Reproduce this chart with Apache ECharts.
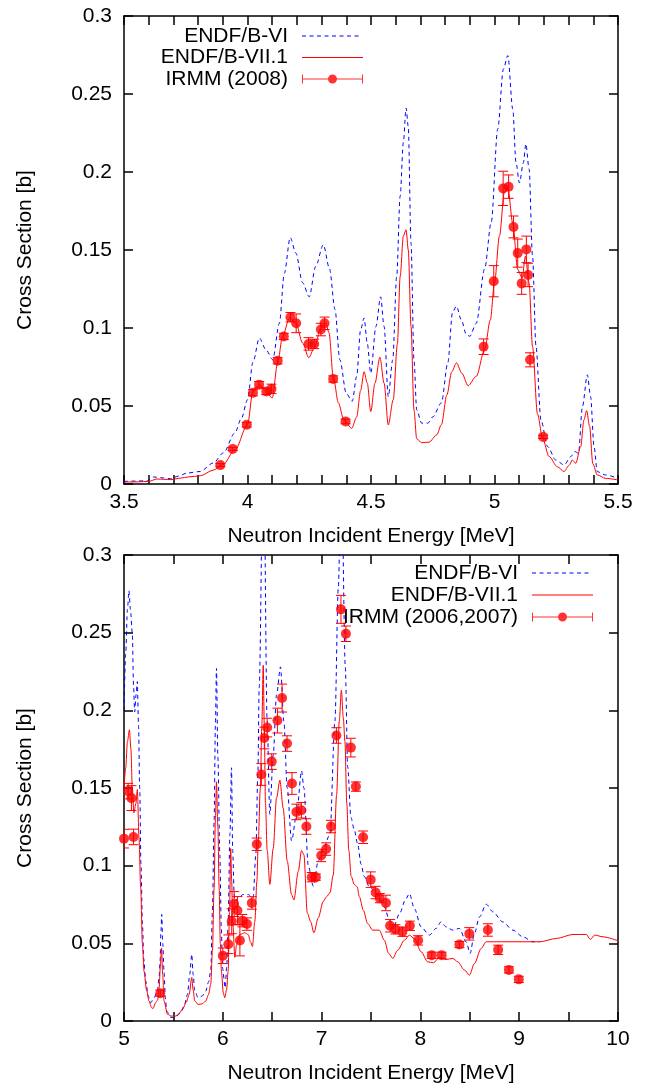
<!DOCTYPE html>
<html><head><meta charset="utf-8">
<script src="https://cdn.jsdelivr.net/npm/echarts@6/dist/echarts.min.js"></script>
<style>html,body{margin:0;padding:0;background:#fff}#c{width:648px;height:1087px}</style>
</head><body><div id="c"></div><script>
// ---------- DATA ----------
const topXTicks = [3.5, 4, 4.5, 5, 5.5];
const botXTicks = [5, 6, 7, 8, 9, 10];
const yTicks = [0, 0.05, 0.1, 0.15, 0.2, 0.25, 0.3];

const seriesNames = ['ENDF/B-VI', 'ENDF/B-VII.1'];
const topExpName = 'IRMM (2008)';
const botExpName = 'IRMM (2006,2007)';
const xTitle = 'Neutron Incident Energy [MeV]';
const yTitle = 'Cross Section [b]';

// top panel, ENDF/B-VI  [energy MeV, cross section b]
const topB6 = [[3.5,0.0017],[3.594,0.002],[3.62,0.0045],[3.65,0.004],[3.688,0.0034],[3.72,0.005],[3.755,0.007],[3.808,0.008],[3.862,0.0135],[3.902,0.0199],[3.949,0.0327],[3.975,0.042],[4.0,0.054],[4.022,0.078],[4.048,0.0936],[4.075,0.086],[4.102,0.0797],[4.129,0.103],[4.149,0.135],[4.173,0.158],[4.196,0.148],[4.223,0.129],[4.25,0.12],[4.276,0.1395],[4.307,0.1534],[4.332,0.138],[4.354,0.112],[4.374,0.0796],[4.4,0.058],[4.424,0.053],[4.442,0.069],[4.458,0.099],[4.472,0.1064],[4.485,0.09],[4.499,0.071],[4.52,0.101],[4.539,0.12],[4.553,0.101],[4.57,0.056],[4.588,0.0796],[4.604,0.133],[4.618,0.1845],[4.631,0.219],[4.642,0.241],[4.651,0.229],[4.662,0.1545],[4.674,0.0796],[4.685,0.0475],[4.705,0.039],[4.73,0.039],[4.75,0.043],[4.785,0.052],[4.811,0.0776],[4.83,0.11],[4.846,0.114],[4.866,0.105],[4.886,0.0958],[4.9,0.0947],[4.926,0.103],[4.96,0.138],[4.987,0.168],[5.013,0.2275],[5.036,0.266],[5.054,0.2746],[5.074,0.2403],[5.087,0.206],[5.101,0.193],[5.117,0.206],[5.127,0.218],[5.14,0.202],[5.154,0.146],[5.168,0.088],[5.188,0.041],[5.215,0.024],[5.248,0.0154],[5.282,0.0122],[5.309,0.0176],[5.326,0.0208],[5.34,0.0197],[5.356,0.0497],[5.376,0.07],[5.389,0.056],[5.403,0.024],[5.416,0.0079],[5.45,0.0058],[5.5,0.0036]];

// top panel, ENDF/B-VII.1
const topB7 = [[3.5,0.0012],[3.56,0.0014],[3.6,0.0017],[3.634,0.0032],[3.66,0.003],[3.69,0.0028],[3.73,0.0038],[3.76,0.0045],[3.81,0.0053],[3.86,0.0088],[3.9,0.0124],[3.95,0.022],[4.0,0.038],[4.022,0.0594],[4.048,0.0637],[4.075,0.0594],[4.1,0.0551],[4.122,0.0776],[4.142,0.0947],[4.17,0.1064],[4.196,0.1032],[4.223,0.0904],[4.248,0.081],[4.27,0.087],[4.297,0.1],[4.317,0.103],[4.33,0.097],[4.347,0.069],[4.368,0.052],[4.39,0.041],[4.422,0.0357],[4.442,0.043],[4.458,0.06],[4.472,0.072],[4.485,0.0646],[4.499,0.0464],[4.516,0.0646],[4.536,0.0813],[4.553,0.0646],[4.57,0.0379],[4.59,0.054],[4.607,0.09],[4.618,0.133],[4.631,0.159],[4.642,0.163],[4.651,0.15],[4.662,0.101],[4.674,0.0475],[4.685,0.029],[4.705,0.0265],[4.735,0.0268],[4.766,0.0315],[4.785,0.038],[4.807,0.057],[4.827,0.072],[4.846,0.0776],[4.868,0.071],[4.893,0.063],[4.926,0.069],[4.96,0.086],[4.983,0.105],[5.0,0.129],[5.02,0.159],[5.04,0.187],[5.054,0.19],[5.074,0.167],[5.094,0.1375],[5.112,0.132],[5.125,0.146],[5.14,0.129],[5.154,0.088],[5.174,0.045],[5.195,0.029],[5.221,0.0176],[5.255,0.011],[5.282,0.008],[5.302,0.012],[5.315,0.0154],[5.329,0.0133],[5.349,0.024],[5.362,0.041],[5.373,0.047],[5.385,0.037],[5.398,0.013],[5.416,0.0058],[5.45,0.0036],[5.5,0.0026]];

// top panel, IRMM (2008)  [energy, xs, uncertainty]
const topExp = [[3.89,0.0121,0.001],[3.94,0.0225,0.001],[3.997,0.038,0.0015],[4.022,0.0585,0.002],[4.047,0.0637,0.002],[4.076,0.0593,0.002],[4.097,0.061,0.003],[4.122,0.079,0.002],[4.147,0.0946,0.002],[4.174,0.1069,0.003],[4.197,0.103,0.006],[4.247,0.0898,0.004],[4.27,0.0898,0.003],[4.297,0.099,0.004],[4.312,0.103,0.004],[4.347,0.0673,0.002],[4.397,0.0401,0.0015],[4.956,0.088,0.005],[4.997,0.13,0.01],[5.035,0.1895,0.011],[5.057,0.1906,0.0075],[5.077,0.1648,0.007],[5.094,0.148,0.009],[5.11,0.1286,0.007],[5.129,0.1504,0.0085],[5.136,0.134,0.0075],[5.144,0.0796,0.0045],[5.197,0.0302,0.001]];

// bottom panel, ENDF/B-VI
const botB6 = [[5.0,0.2],[5.017,0.236],[5.035,0.265],[5.05,0.277],[5.065,0.265],[5.084,0.25],[5.097,0.215],[5.108,0.199],[5.122,0.21],[5.135,0.2185],[5.147,0.19],[5.159,0.15],[5.172,0.1],[5.186,0.064],[5.2,0.04],[5.22,0.0257],[5.245,0.016],[5.27,0.0118],[5.304,0.015],[5.338,0.0193],[5.355,0.028],[5.365,0.0386],[5.374,0.058],[5.382,0.0686],[5.392,0.05],[5.405,0.032],[5.418,0.015],[5.432,0.0064],[5.47,0.0025],[5.507,0.002],[5.54,0.0035],[5.574,0.0054],[5.61,0.01],[5.642,0.017],[5.665,0.03],[5.686,0.0429],[5.7,0.03],[5.716,0.0193],[5.75,0.015],[5.79,0.016],[5.828,0.0193],[5.855,0.025],[5.878,0.032],[5.895,0.07],[5.912,0.1286],[5.925,0.19],[5.936,0.227],[5.95,0.17],[5.97,0.107],[5.985,0.06],[5.997,0.034],[6.024,0.0214],[6.04,0.035],[6.054,0.064],[6.072,0.12],[6.088,0.163],[6.1,0.11],[6.115,0.082],[6.122,0.077],[6.155,0.079],[6.206,0.0814],[6.257,0.0814],[6.307,0.079],[6.334,0.107],[6.355,0.16],[6.368,0.214],[6.412,0.38],[6.449,0.193],[6.476,0.133],[6.51,0.171],[6.544,0.21],[6.584,0.228],[6.618,0.193],[6.652,0.15],[6.696,0.116],[6.747,0.133],[6.797,0.161],[6.821,0.15],[6.865,0.1],[6.916,0.0868],[6.966,0.103],[7.017,0.111],[7.084,0.12],[7.135,0.193],[7.169,0.279],[7.2,0.36],[7.24,0.228],[7.264,0.1635],[7.297,0.131],[7.331,0.123],[7.365,0.114],[7.399,0.101],[7.432,0.093],[7.483,0.0864],[7.534,0.0842],[7.584,0.0789],[7.635,0.0735],[7.686,0.065],[7.736,0.0617],[7.787,0.069],[7.855,0.0789],[7.889,0.082],[7.939,0.0724],[8.007,0.0606],[8.091,0.0553],[8.159,0.0596],[8.209,0.0638],[8.26,0.0606],[8.328,0.0585],[8.395,0.0596],[8.463,0.051],[8.503,0.0435],[8.547,0.0564],[8.598,0.067],[8.666,0.0752],[8.733,0.0703],[8.834,0.0638],[8.936,0.0585],[9.037,0.0542],[9.139,0.051],[9.206,0.051]];

// bottom panel, ENDF/B-VII.1
const botB7 = [[5.0,0.15],[5.017,0.163],[5.035,0.18],[5.055,0.1875],[5.07,0.175],[5.084,0.15],[5.1,0.134],[5.12,0.14],[5.135,0.149],[5.152,0.118],[5.169,0.0857],[5.186,0.05],[5.203,0.032],[5.228,0.02],[5.253,0.0129],[5.28,0.0085],[5.294,0.008],[5.32,0.0118],[5.34,0.0135],[5.355,0.021],[5.368,0.035],[5.38,0.047],[5.392,0.03],[5.405,0.0129],[5.44,0.0043],[5.48,0.0032],[5.524,0.0032],[5.56,0.005],[5.591,0.0075],[5.63,0.012],[5.659,0.017],[5.686,0.028],[5.7,0.02],[5.716,0.0129],[5.75,0.0107],[5.79,0.011],[5.828,0.0129],[5.855,0.017],[5.878,0.0236],[5.895,0.045],[5.912,0.0857],[5.925,0.13],[5.936,0.154],[5.95,0.125],[5.963,0.0857],[5.975,0.05],[5.986,0.032],[6.005,0.018],[6.02,0.015],[6.038,0.02],[6.054,0.032],[6.068,0.07],[6.08,0.111],[6.09,0.09],[6.1,0.064],[6.122,0.041],[6.139,0.049],[6.172,0.0557],[6.223,0.0568],[6.257,0.0557],[6.28,0.051],[6.3,0.048],[6.324,0.064],[6.345,0.09],[6.358,0.1136],[6.38,0.15],[6.395,0.19],[6.409,0.229],[6.42,0.19],[6.432,0.14],[6.449,0.11],[6.476,0.088],[6.51,0.111],[6.544,0.1436],[6.578,0.155],[6.611,0.137],[6.652,0.103],[6.696,0.0814],[6.72,0.078],[6.764,0.0964],[6.797,0.1097],[6.821,0.107],[6.855,0.0696],[6.889,0.064],[6.922,0.0568],[6.966,0.0664],[7.017,0.077],[7.05,0.08],[7.084,0.0825],[7.118,0.094],[7.152,0.1457],[7.179,0.193],[7.2,0.213],[7.22,0.195],[7.236,0.18],[7.255,0.14],[7.275,0.11],[7.3,0.093],[7.33,0.088],[7.36,0.0864],[7.382,0.08],[7.422,0.0714],[7.466,0.0628],[7.517,0.0585],[7.584,0.0585],[7.635,0.052],[7.679,0.0435],[7.72,0.0403],[7.77,0.0456],[7.838,0.052],[7.889,0.0553],[7.939,0.053],[8.007,0.0446],[8.074,0.0381],[8.132,0.0375],[8.193,0.0409],[8.26,0.0396],[8.328,0.0403],[8.378,0.0381],[8.446,0.0328],[8.497,0.0296],[8.547,0.037],[8.615,0.0467],[8.666,0.051],[8.868,0.051],[9.206,0.051],[9.375,0.0531],[9.544,0.0557],[9.679,0.0557],[9.72,0.0525],[9.764,0.0553],[9.848,0.0542],[10.0,0.0516]];

// bottom panel, IRMM (2006,2007)  [energy, xs, uncertainty]
const botExp = [[5.0,0.1174,0.006],[5.042,0.148,0.005],[5.075,0.1435,0.008],[5.096,0.1185,0.005],[5.367,0.0179,0.002],[6.0,0.042,0.005],[6.056,0.0494,0.006],[6.09,0.0642,0.008],[6.115,0.0753,0.008],[6.148,0.0711,0.009],[6.173,0.0519,0.01],[6.198,0.0646,0.004],[6.244,0.0624,0.004],[6.294,0.076,0.004],[6.344,0.1138,0.004],[6.39,0.1587,0.007],[6.42,0.1822,0.007],[6.449,0.1889,0.006],[6.495,0.167,0.005],[6.553,0.1934,0.008],[6.6,0.2079,0.009],[6.65,0.1786,0.005],[6.7,0.1529,0.007],[6.745,0.1346,0.005],[6.795,0.1357,0.005],[6.846,0.1252,0.005],[6.9,0.0926,0.003],[6.942,0.0926,0.002],[6.996,0.1066,0.004],[7.046,0.1107,0.004],[7.096,0.1252,0.004],[7.15,0.1838,0.005],[7.196,0.265,0.009],[7.246,0.2493,0.005],[7.296,0.176,0.006],[7.347,0.1509,0.003],[7.42,0.1183,0.004],[7.497,0.091,0.005],[7.547,0.0827,0.004],[7.589,0.0791,0.003],[7.651,0.076,0.005],[7.693,0.0613,0.004],[7.747,0.059,0.003],[7.818,0.0575,0.003],[7.893,0.0613,0.003],[7.977,0.0519,0.003],[8.115,0.0423,0.002],[8.215,0.0423,0.002],[8.395,0.0492,0.002],[8.495,0.0561,0.004],[8.683,0.0586,0.004],[8.787,0.0458,0.003],[8.896,0.0329,0.002],[8.996,0.0268,0.002]];

// ---------- STYLE ----------
const FONT = '"Liberation Sans", Arial, Helvetica, sans-serif';
const FS = 21;
const BLUE = '#0000ff', RED = '#ff0000', BLACK = '#000000';
const AXW = 1.5;

function dashIcon() {
  let p = 'path://M0,0';
  for (let i = 0; i < 8; i++) p += ' M' + (i * 7.5) + ',6.5h4v1h-4z';
  p += ' M61,14';
  return p;
}
const LINE_ICON = 'path://M0,0 M0,6.5h61v1h-61z M61,14';
const ERR_ICON = 'path://M0,0 M0,6.5h61v1h-61z M0,2.5h1v9h-1z M60,2.5h1v9h-1z M26,7a4.5,4.5 0 1,1 9,0a4.5,4.5 0 1,1 -9,0z M61,14';

function xAx(grid, ticks, minorSplit, pos, showName) {
  const iv = ticks[1] - ticks[0];
  return {
    type: 'value', gridIndex: grid, position: pos,
    min: ticks[0], max: ticks[ticks.length - 1], interval: iv,
    name: showName ? xTitle : '', nameLocation: 'middle', nameGap: 42,
    nameTextStyle: { fontFamily: FONT, fontSize: FS, color: BLACK },
    axisLine: { show: true, onZero: false, lineStyle: { color: BLACK, width: AXW } },
    axisTick: { show: true, inside: true, length: 9, lineStyle: { color: BLACK, width: AXW } },
    minorTick: { show: true, splitNumber: minorSplit, length: 9, lineStyle: { color: BLACK, width: AXW } },
    axisLabel: { show: pos === 'bottom', fontFamily: FONT, fontSize: FS, color: BLACK, margin: 8 },
    splitLine: { show: false }, minorSplitLine: { show: false }
  };
}
function yAx(grid, pos, showName) {
  return {
    type: 'value', gridIndex: grid, position: pos,
    min: yTicks[0], max: yTicks[yTicks.length - 1], interval: yTicks[1] - yTicks[0],
    name: showName ? yTitle : '', nameLocation: 'middle', nameGap: 88, nameRotate: 90,
    nameTextStyle: { fontFamily: FONT, fontSize: FS, color: BLACK },
    axisLine: { show: true, onZero: false, lineStyle: { color: BLACK, width: AXW } },
    axisTick: { show: true, inside: true, length: 9, lineStyle: { color: BLACK, width: AXW } },
    axisLabel: { show: pos === 'left', fontFamily: FONT, fontSize: FS, color: BLACK, margin: 12 },
    splitLine: { show: false }
  };
}
function lineSeries(name, data, xi, yi, color, dashed, z) {
  return {
    type: 'line', name, data, xAxisIndex: xi, yAxisIndex: yi,
    symbol: 'none', showSymbol: false, smooth: 0.3, smoothMonotone: 'x',
    lineStyle: { color, width: 1, type: dashed ? [4, 3.5] : 'solid' },
    itemStyle: { color, borderWidth: 0 }, z, clip: true, silent: true
  };
}
function errSeries(data, xi, yi) {
  return {
    type: 'custom', xAxisIndex: xi, yAxisIndex: yi, data, z: 3, clip: true, silent: true,
    encode: { x: 0, y: 1 },
    renderItem: function (params, api) {
      const x = api.value(0), y = api.value(1), e = api.value(2);
      const lo = api.coord([x, y - e]), hi = api.coord([x, y + e]);
      const c = 5;
      const st = { stroke: RED, lineWidth: 1 };
      return { type: 'group', children: [
        { type: 'line', shape: { x1: lo[0], y1: lo[1], x2: hi[0], y2: hi[1] }, style: st },
        { type: 'line', shape: { x1: lo[0] - c, y1: lo[1], x2: lo[0] + c, y2: lo[1] }, style: st },
        { type: 'line', shape: { x1: hi[0] - c, y1: hi[1], x2: hi[0] + c, y2: hi[1] }, style: st }
      ]};
    }
  };
}
function ptSeries(name, data, xi, yi) {
  return {
    type: 'scatter', name, data: data.map(d => [d[0], d[1]]), xAxisIndex: xi, yAxisIndex: yi,
    symbol: 'circle', symbolSize: 10, itemStyle: { color: RED, borderWidth: 0 }, z: 4, silent: true
  };
}
function legendCfg(right, top, gap, expName) {
  return {
    orient: 'vertical', align: 'right', right, top, padding: 0, itemGap: gap,
    itemWidth: 61, itemHeight: 14, selectedMode: false,
    textStyle: { fontFamily: FONT, fontSize: FS, color: BLACK, lineHeight: 21, padding: [0, 9, 0, 0] },
    itemStyle: { borderWidth: 0 },
    data: [
      { name: seriesNames[0], icon: dashIcon(), itemStyle: { color: BLUE, borderWidth: 0 } },
      { name: seriesNames[1], icon: LINE_ICON, itemStyle: { color: RED, borderWidth: 0 } },
      { name: expName, icon: ERR_ICON, itemStyle: { color: RED, borderWidth: 0 } }
    ]
  };
}

const chart = echarts.init(document.getElementById('c'), null, { renderer: 'canvas' });
chart.setOption({
  animation: false,
  backgroundColor: '#ffffff',
  grid: [
    { left: 124, top: 16, width: 494, height: 468 },
    { left: 124, top: 555, width: 494, height: 466 }
  ],
  xAxis: [
    xAx(0, topXTicks, 5, 'bottom', true),
    xAx(0, topXTicks, 5, 'top', false),
    xAx(1, botXTicks, 2, 'bottom', true),
    xAx(1, botXTicks, 2, 'top', false)
  ],
  yAxis: [
    yAx(0, 'left', true), yAx(0, 'right', false),
    yAx(1, 'left', true), yAx(1, 'right', false)
  ],
  legend: [
    legendCfg(285, 25.5, 0.5, topExpName),
    legendCfg(55, 562.5, 1, botExpName)
  ],
  series: [
    lineSeries(seriesNames[0], topB6, 0, 0, BLUE, true, 2),
    lineSeries(seriesNames[1], topB7, 0, 0, RED, false, 2),
    errSeries(topExp, 0, 0),
    ptSeries(topExpName, topExp, 0, 0),
    lineSeries(seriesNames[0], botB6, 2, 2, BLUE, true, 2),
    lineSeries(seriesNames[1], botB7, 2, 2, RED, false, 2),
    errSeries(botExp, 2, 2),
    ptSeries(botExpName, botExp, 2, 2)
  ]
});
</script></body></html>
